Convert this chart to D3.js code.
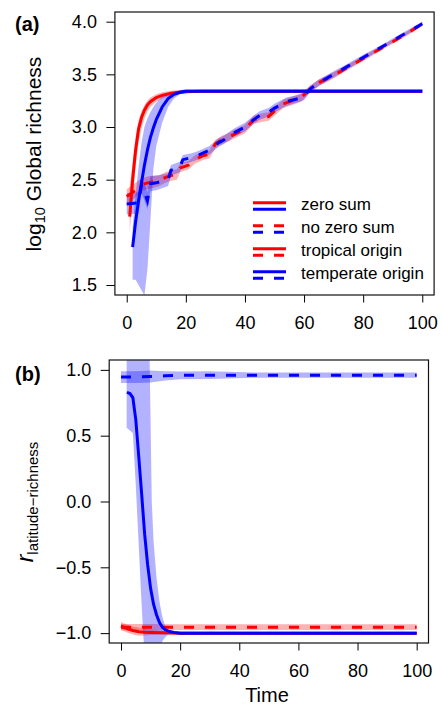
<!DOCTYPE html>
<html>
<head>
<meta charset="utf-8">
<script src="https://cdn.jsdelivr.net/npm/d3@7"></script>
<style>
  body { margin: 0; background: #fff; }
  svg { display: block; font-family: "Liberation Sans", Arial, Helvetica, sans-serif; }
</style>
</head>
<body>
<svg id="chart" width="442" height="708"></svg>
<script>
// Two stacked panels sharing a time axis: (a) log10 global richness,
// (b) latitude-richness correlation. Red = tropical origin, blue = temperate
// origin; solid = zero sum, dashed = no zero sum. Shaded bands are the spread
// across replicate runs.

const timeTicks = [0, 20, 40, 60, 80, 100];
const richTicks = [1.5, 2.0, 2.5, 3.0, 3.5, 4.0];
const corrTicks = [-1.0, -0.5, 0.0, 0.5, 1.0];

// ---- panel (a): log10 global richness ----
const tTropZS_a = [1, 2, 3, 4, 5, 6, 7, 8, 10, 12, 15, 20, 25, 30, 40, 60, 80, 100];
const richTropZS = [2.15, 2.50, 2.78, 2.98, 3.09, 3.16, 3.21, 3.24, 3.28, 3.30, 3.32, 3.335, 3.34, 3.34, 3.34, 3.34, 3.34, 3.34];
const richTropZS_hi = [2.42, 2.66, 2.90, 3.06, 3.15, 3.21, 3.25, 3.28, 3.31, 3.33, 3.345, 3.355, 3.355, 3.355, 3.355, 3.355, 3.355, 3.355];
const richTropZS_lo = [2.00, 2.32, 2.62, 2.85, 2.99, 3.08, 3.15, 3.19, 3.24, 3.27, 3.30, 3.32, 3.33, 3.33, 3.33, 3.33, 3.33, 3.33];

const tTempZS_a = [2, 3, 4, 5, 6, 7, 8, 9, 10, 12, 14, 16, 18, 20, 25, 30, 40, 60, 80, 100];
const richTempZS = [1.86, 2.10, 2.30, 2.47, 2.64, 2.78, 2.90, 2.99, 3.07, 3.19, 3.27, 3.31, 3.33, 3.34, 3.34, 3.34, 3.34, 3.34, 3.34, 3.34];
const richTempZS_hi = [2.05, 2.35, 2.62, 2.85, 3.00, 3.08, 3.14, 3.19, 3.23, 3.29, 3.32, 3.34, 3.35, 3.355, 3.355, 3.355, 3.355, 3.355, 3.355, 3.355];
const richTempZS_lo = [1.55, 1.55, 1.50, 1.45, 1.40, 1.65, 2.10, 2.60, 2.82, 3.04, 3.19, 3.27, 3.31, 3.325, 3.33, 3.33, 3.33, 3.33, 3.33, 3.33];

const tTropNZ_a = [0, 3, 5, 7, 9, 11, 13, 15, 17, 18, 21, 23, 26, 28, 30, 32, 35, 37, 40, 43, 46, 48, 50, 53, 56, 59, 62, 65, 70, 75, 80, 85, 90, 95, 100];
const richTropNZ = [2.34, 2.40, 2.45, 2.47, 2.48, 2.49, 2.52, 2.54, 2.55, 2.61, 2.64, 2.69, 2.73, 2.74, 2.84, 2.875, 2.91, 2.94, 2.98, 3.07, 3.09, 3.10, 3.15, 3.22, 3.25, 3.28, 3.36, 3.42, 3.49, 3.57, 3.65, 3.73, 3.81, 3.89, 3.98];
const richTropNZ_sd = [0.07, 0.07, 0.06, 0.06, 0.06, 0.05, 0.05, 0.05, 0.05, 0.04, 0.04, 0.04, 0.04, 0.04, 0.04, 0.04, 0.04, 0.04, 0.04, 0.04, 0.04, 0.04, 0.04, 0.04, 0.04, 0.04, 0.035, 0.03, 0.03, 0.025, 0.025, 0.02, 0.02, 0.02, 0.02];

const tTempNZ_a = [0, 4, 5, 6, 7, 8, 10, 14, 15, 18, 19, 22, 24, 28, 31, 33, 36, 40, 43, 45, 48, 50, 54, 58, 60, 62, 65, 70, 75, 80, 85, 90, 95, 100];
const richTempNZ = [2.27, 2.28, 2.45, 2.38, 2.30, 2.46, 2.47, 2.50, 2.59, 2.62, 2.69, 2.71, 2.73, 2.78, 2.85, 2.88, 2.94, 3.00, 3.07, 3.11, 3.14, 3.18, 3.24, 3.27, 3.29, 3.36, 3.42, 3.50, 3.58, 3.66, 3.74, 3.82, 3.90, 3.98];
const richTempNZ_sd = [0.10, 0.10, 0.08, 0.08, 0.08, 0.07, 0.07, 0.06, 0.05, 0.05, 0.045, 0.04, 0.04, 0.04, 0.04, 0.04, 0.04, 0.04, 0.04, 0.04, 0.04, 0.04, 0.04, 0.035, 0.035, 0.03, 0.03, 0.03, 0.025, 0.025, 0.02, 0.02, 0.02, 0.02];

// ---- panel (b): latitude-richness correlation ----
const tTropZS_b = [0, 2, 4, 6, 8, 10, 15, 20, 40, 60, 80, 100];
const corrTropZS = [-0.945, -0.965, -0.98, -0.99, -0.993, -0.995, -0.998, -1.0, -1.0, -1.0, -1.0, -1.0];
const corrTropZS_sd = [0.03, 0.03, 0.03, 0.03, 0.025, 0.02, 0.015, 0.01, 0.008, 0.008, 0.008, 0.008];

const tTropNZ_b = [0, 10, 20, 40, 60, 80, 100];
const corrTropNZ = [-0.955, -0.955, -0.955, -0.955, -0.955, -0.955, -0.955];
const corrTropNZ_sd = [0.025, 0.025, 0.022, 0.022, 0.022, 0.022, 0.022];

const tTempZS_b = [2, 3, 4, 5, 6, 7, 8, 9, 10, 11, 12, 13, 14, 15, 16, 18, 20, 40, 60, 80, 100];
const corrTempZS = [0.83, 0.82, 0.79, 0.62, 0.34, 0.05, -0.25, -0.48, -0.66, -0.78, -0.86, -0.92, -0.955, -0.975, -0.985, -0.995, -1.0, -1.0, -1.0, -1.0, -1.0];
const tTempZSband_b = [1.9, 4, 5, 6, 7, 8, 9.6, 10.4, 11, 12, 13, 14, 15, 16, 18, 20, 100];
const corrTempZS_hi = [1.2, 1.2, 1.2, 1.2, 1.2, 1.2, 1.2, 0.0, -0.3, -0.58, -0.76, -0.88, -0.95, -0.98, -0.99, -0.99, -0.99];
const corrTempZS_lo = [0.56, 0.52, 0.12, -0.34, -0.80, -1.2, -1.2, -1.2, -1.2, -1.2, -1.12, -1.06, -1.03, -1.01, -1.005, -1.01, -1.01];

const tTempNZ_b = [0, 5, 10, 15, 20, 30, 45, 60, 80, 100];
const corrTempNZ = [0.945, 0.945, 0.95, 0.955, 0.958, 0.96, 0.96, 0.96, 0.96, 0.96];
const corrTempNZ_sd = [0.045, 0.045, 0.045, 0.035, 0.03, 0.03, 0.02, 0.02, 0.02, 0.02];

const legendLabels = ["zero sum", "no zero sum", "tropical origin", "temperate origin"];

const RED = "#ff0000", BLUE = "#0000ff";
const DASH = "10,11";
const svg = d3.select("#chart");

const minus = (v, s) => v.map((d, i) => d - s[i]);
const plus = (v, s) => v.map((d, i) => d + s[i]);

function panel(cfg) {
  const x = d3.scaleLinear().domain([-4, 104]).range(cfg.xr);
  const y = d3.scaleLinear().domain(cfg.yd).range(cfg.yr);
  const g = svg.append("g");

  g.append("clipPath").attr("id", "clip-" + cfg.id).append("rect")
    .attr("x", cfg.xr[0]).attr("y", cfg.yr[1])
    .attr("width", cfg.xr[1] - cfg.xr[0]).attr("height", cfg.yr[0] - cfg.yr[1]);
  const plot = g.append("g").attr("clip-path", `url(#clip-${cfg.id})`);

  const area = d3.area().x((d) => x(d[0])).y0((d) => y(d[1])).y1((d) => y(d[2]));
  const line = d3.line().x((d) => x(d[0])).y((d) => y(d[1]));

  cfg.bands.forEach((b) => plot.append("path")
    .datum(d3.zip(b.t, b.lo, b.hi))
    .attr("d", area).attr("fill", b.color).attr("fill-opacity", 0.3));

  cfg.lines.forEach((l) => plot.append("path")
    .datum(d3.zip(l.t, l.v))
    .attr("d", line).attr("fill", "none")
    .attr("stroke", l.color).attr("stroke-width", 3)
    .attr("stroke-dasharray", l.dashed ? DASH : null));

  // R-style axes: outward ticks, no domain line (the box covers it)
  const xa = g.append("g").attr("transform", `translate(0,${cfg.yr[0]})`)
    .call(d3.axisBottom(x).tickValues(timeTicks).tickSize(7.5).tickPadding(13.5).tickFormat(d3.format("d")));
  const ya = g.append("g").attr("transform", `translate(${cfg.xr[0]},0)`)
    .call(d3.axisLeft(y).tickValues(cfg.yticks).tickSize(8.5).tickPadding(cfg.ypad).tickFormat(d3.format(".1f")));
  [xa, ya].forEach((a) => {
    a.select(".domain").remove();
    a.attr("font-size", null).attr("font-family", null);
    a.selectAll("text").attr("font-size", 18).attr("fill", "#000");
    a.selectAll("line").attr("stroke", "#000");
  });

  g.append("rect")
    .attr("x", cfg.xr[0]).attr("y", cfg.yr[1])
    .attr("width", cfg.xr[1] - cfg.xr[0]).attr("height", cfg.yr[0] - cfg.yr[1])
    .attr("fill", "none").attr("stroke", "#111").attr("stroke-width", 1.2);

  g.append("text").attr("x", 15).attr("y", cfg.tagY)
    .attr("font-size", 20).attr("font-weight", "bold").text(cfg.tag);
  return { x, y, g };
}

panel({
  id: "a", tag: "(a)", tagY: 31,
  xr: [114.9, 434.1], yr: [295, 12], yd: [1.405, 4.092],
  yticks: richTicks, ypad: 9.5,
  bands: [
    { t: tTropZS_a, lo: richTropZS_lo, hi: richTropZS_hi, color: RED },
    { t: tTropNZ_a, lo: minus(richTropNZ, richTropNZ_sd), hi: plus(richTropNZ, richTropNZ_sd), color: RED },
    { t: tTempZS_a, lo: richTempZS_lo, hi: richTempZS_hi, color: BLUE },
    { t: tTempNZ_a, lo: minus(richTempNZ, richTempNZ_sd), hi: plus(richTempNZ, richTempNZ_sd), color: BLUE },
  ],
  lines: [
    { t: tTropNZ_a, v: richTropNZ, color: RED, dashed: true },
    { t: tTropZS_a, v: richTropZS, color: RED },
    { t: tTempNZ_a, v: richTempNZ, color: BLUE, dashed: true },
    { t: tTempZS_a, v: richTempZS, color: BLUE },
  ],
});

panel({
  id: "b", tag: "(b)", tagY: 381,
  xr: [109.2, 428.5], yr: [643, 360], yd: [-1.075, 1.075],
  yticks: corrTicks, ypad: 9.5,
  bands: [
    { t: tTropZS_b, lo: minus(corrTropZS, corrTropZS_sd), hi: plus(corrTropZS, corrTropZS_sd), color: RED },
    { t: tTropNZ_b, lo: minus(corrTropNZ, corrTropNZ_sd), hi: plus(corrTropNZ, corrTropNZ_sd), color: RED },
    { t: tTempZSband_b, lo: corrTempZS_lo, hi: corrTempZS_hi, color: BLUE },
    { t: tTempNZ_b, lo: minus(corrTempNZ, corrTempNZ_sd), hi: plus(corrTempNZ, corrTempNZ_sd), color: BLUE },
  ],
  lines: [
    { t: tTropNZ_b, v: corrTropNZ, color: RED, dashed: true },
    { t: tTropZS_b, v: corrTropZS, color: RED },
    { t: tTempNZ_b, v: corrTempNZ, color: BLUE, dashed: true },
    { t: tTempZS_b, v: corrTempZS, color: BLUE },
  ],
});

// legend of panel (a): each row shows two short line samples stacked
const legendRows = [
  [{ c: RED, d: false }, { c: BLUE, d: false }],
  [{ c: RED, d: true }, { c: BLUE, d: true }],
  [{ c: RED, d: false }, { c: RED, d: true }],
  [{ c: BLUE, d: false }, { c: BLUE, d: true }],
];
const leg = svg.append("g");
legendLabels.forEach((lab, i) => {
  const base = 210 + i * 23;
  legendRows[i].forEach((s, j) => {
    leg.append("line")
      .attr("x1", 253).attr("x2", 286)
      .attr("y1", base - 7.3 + j * 6.6).attr("y2", base - 7.3 + j * 6.6)
      .attr("stroke", s.c).attr("stroke-width", 3)
      .attr("stroke-dasharray", s.d ? DASH : null);
  });
  leg.append("text").attr("x", 301).attr("y", base).attr("font-size", 17).text(lab);
});

// axis titles
const ta = svg.append("text").attr("transform", "translate(41,154) rotate(-90)")
  .attr("text-anchor", "middle").attr("font-size", 21);
ta.append("tspan").text("log");
ta.append("tspan").attr("font-size", 14.5).attr("dy", 4).text("10");
ta.append("tspan").attr("dy", -4).text("\u00a0Global richness");

const tb = svg.append("text").attr("transform", "translate(33,502) rotate(-90)")
  .attr("text-anchor", "middle");
tb.append("tspan").attr("font-size", 23).attr("font-style", "italic").text("r");
tb.append("tspan").attr("font-size", 15).attr("dy", 5).text("latitude\u2212richness");

svg.append("text").attr("x", 267).attr("y", 702)
  .attr("text-anchor", "middle").attr("font-size", 20).text("Time");
</script>
</body>
</html>
